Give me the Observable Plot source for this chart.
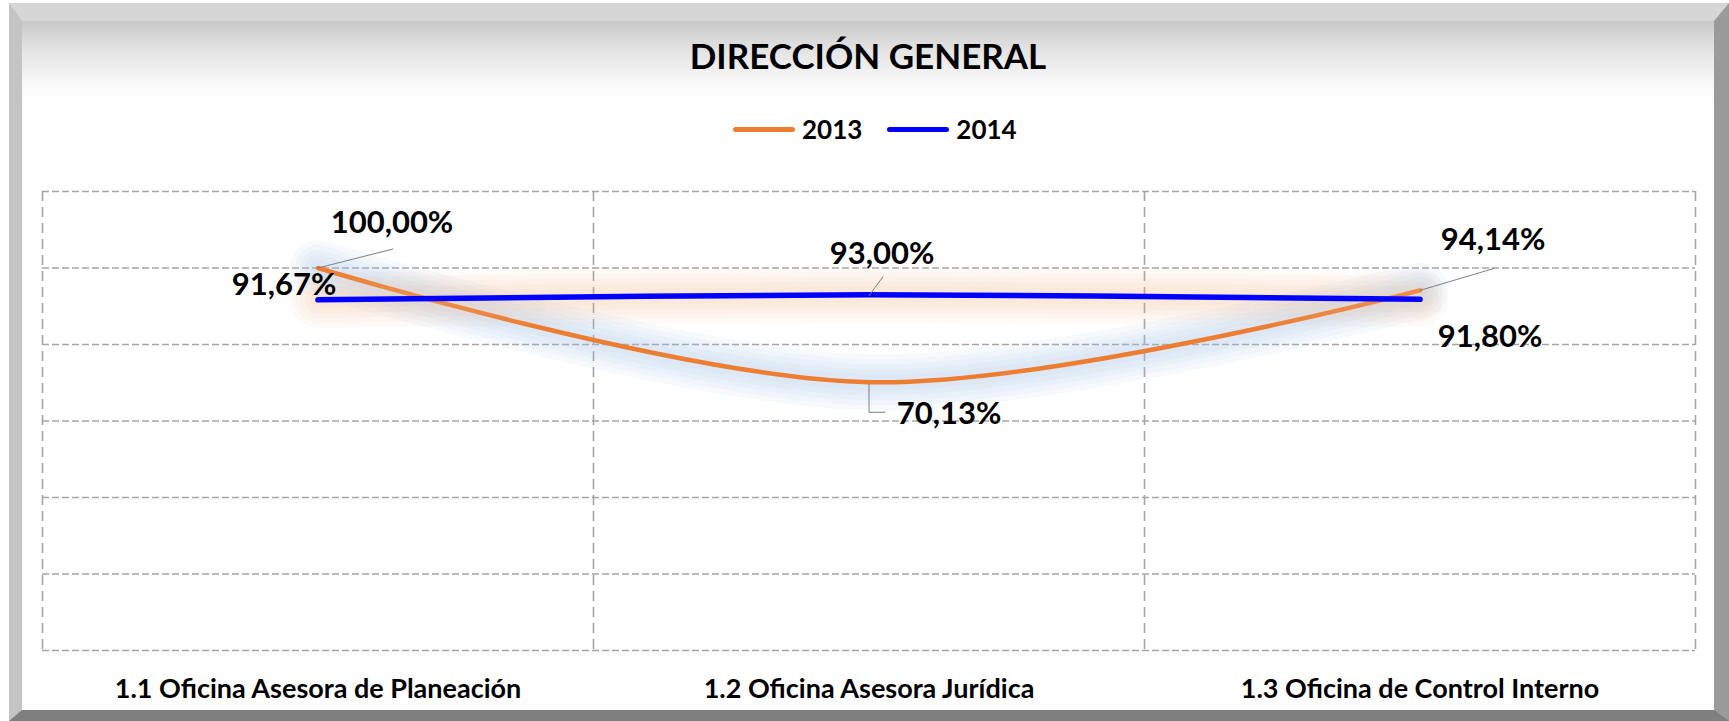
<!DOCTYPE html>
<html>
<head>
<meta charset="utf-8">
<script src="https://cdn.jsdelivr.net/npm/d3@7"></script>
<script src="https://cdn.jsdelivr.net/npm/@observablehq/plot@0.6"></script>
<style>
  html, body { margin: 0; padding: 0; background: #ffffff; }
  body { width: 1729px; height: 721px; position: relative; overflow: hidden; font-family: Lato, "Open Sans", sans-serif; }
  #frame {
    position: absolute; left: 9px; top: 3px; width: 1720px; height: 718px; box-sizing: border-box;
    border-style: solid; border-width: 18px 15px 11px 13px;
    border-color: #d6d6d6 #9a9a9a #7f7f7f #c4c4c4;
    background: linear-gradient(to bottom, #c9c9c9 0px, #e4e4e4 30px, #f7f7f7 60px, #ffffff 78px, #ffffff 100%);
  }
  #title {
    position: absolute; left: 0; top: 38px; width: 1736px; text-align: center;
    font-size: 35px; font-weight: bold; line-height: 1; color: #000;
  }
  #legend {
    position: absolute; left: 733px; top: 116px; display: flex; align-items: center;
    font-size: 26px; font-weight: bold; line-height: 1; color: #000;
  }
  .sw { display: inline-block; width: 62px; height: 5px; border-radius: 3px; margin-right: 7px; }
  .item { display: flex; align-items: center; margin-right: 25px; }
  #chart { position: absolute; left: 0; top: 170px; }
</style>
</head>
<body>
<div id="frame"></div>
<div id="title">DIRECCIÓN GENERAL</div>
<div id="legend"></div>
<div id="chart"></div>
<script>
// ---- data ----
const categories = ["1.1 Oficina Asesora de Planeación", "1.2 Oficina Asesora Jurídica", "1.3 Oficina de Control Interno"];
const seriesNames = ["2013", "2014"];
const values2013 = [100.00, 70.13, 94.14];
const values2014 = [91.67, 93.00, 91.80];
const labels2013 = ["100,00%", "70,13%", "94,14%"];
const labels2014 = ["91,67%", "93,00%", "91,80%"];
const yTicks = [0, 20, 40, 60, 80, 100, 120];

// ---- layout / style config ----
const colors = {"2013": "#ed7d31", "2014": "#0000ff"};
const glowColors = {"2013": "#9dc3e6", "2014": "#f4b183"};
const glowWidths = [56, 46, 36, 26, 16];
const W = 1729, H = 551, mL = 42, mR = 34, mT = 21, mB = 71;
const pxX = (W - mL - mR) / 3;          // pixels per category step
const pxY = (H - mT - mB) / 120;        // pixels per percent
// label offsets (pixels, relative to the data point)
const labelOffsets2013 = [[74, -45], [80, 32], [73, -50]];
const labelOffsets2014 = [[-34, -15], [13, -41], [70, 38]];
// leader line paths (pixels, relative to the data point); null = none
const leaders2013 = [[[0, 0], [75, -19]], [[0, 2], [0, 30], [16, 30]], [[0, 0], [74, -22]]];
const leaders2014 = [null, [[0, 1], [14, -18]], null];

const rows = [];
categories.forEach((c, i) => {
  rows.push({i, x: i + 0.5, year: "2013", value: values2013[i], label: labels2013[i], off: labelOffsets2013[i], lead: leaders2013[i]});
  rows.push({i, x: i + 0.5, year: "2014", value: values2014[i], label: labels2014[i], off: labelOffsets2014[i], lead: leaders2014[i]});
});
const s2013 = rows.filter(d => d.year === "2013");
const s2014 = rows.filter(d => d.year === "2014");

const leaderPts = [];
rows.forEach((d, k) => {
  if (!d.lead) return;
  d.lead.forEach(([dx, dy]) => leaderPts.push({id: k, x: d.x + dx / pxX, y: d.value - dy / pxY}));
});

const labelMarks = rows.map(d => Plot.text([d], {
  x: "x", y: "value", text: "label", dx: d.off[0], dy: d.off[1],
  textAnchor: "middle", lineAnchor: "middle", fontSize: 31, fontWeight: "bold", fill: "#000"
}));

const glow = (data, year, op) => glowWidths.map(w => Plot.line(data, {
  x: "x", y: "value", stroke: glowColors[year], strokeWidth: w, strokeOpacity: op,
  strokeLinecap: "round", curve: "catmull-rom"
}));

const gridDash = "7,3";
const chart = Plot.plot({
  width: W, height: H,
  marginLeft: mL, marginRight: mR, marginTop: mT, marginBottom: mB,
  x: {domain: [0, 3], axis: null},
  y: {domain: [0, 120], axis: null},
  style: {fontFamily: "Lato, 'Open Sans', sans-serif", background: "transparent", overflow: "visible"},
  marks: [
    Plot.ruleY(yTicks, {stroke: "#a5a5a5", strokeWidth: 1.6, strokeDasharray: gridDash}),
    Plot.ruleX([0, 1, 2, 3], {stroke: "#a5a5a5", strokeWidth: 1.6, strokeDasharray: "10,6"}),
    ...glow(s2013, "2013", 0.085),
    Plot.line(s2013, {x: "x", y: "value", stroke: colors["2013"], strokeWidth: 4.5, curve: "catmull-rom", strokeLinecap: "round"}),
    ...glow(s2014, "2014", 0.065),
    Plot.line(s2014, {x: "x", y: "value", stroke: colors["2014"], strokeWidth: 5.5, curve: "catmull-rom", strokeLinecap: "round"}),
    Plot.line(leaderPts, {x: "x", y: "y", z: "id", stroke: "#7f7f7f", strokeWidth: 1}),
    ...labelMarks,
    Plot.text(categories.map((c, i) => ({c, x: i + 0.5})), {
      x: "x", y: () => 0, text: "c", dy: 39, textAnchor: "middle", lineAnchor: "middle",
      fontSize: 27, fontWeight: "bold", fill: "#000"
    })
  ]
});

document.getElementById("chart").appendChild(chart);

// legend
const legend = d3.select("#legend");
seriesNames.forEach(s => {
  const it = legend.append("div").attr("class", "item");
  it.append("span").attr("class", "sw").style("background", colors[s]);
  it.append("span").text(s);
});
</script>
</body>
</html>
